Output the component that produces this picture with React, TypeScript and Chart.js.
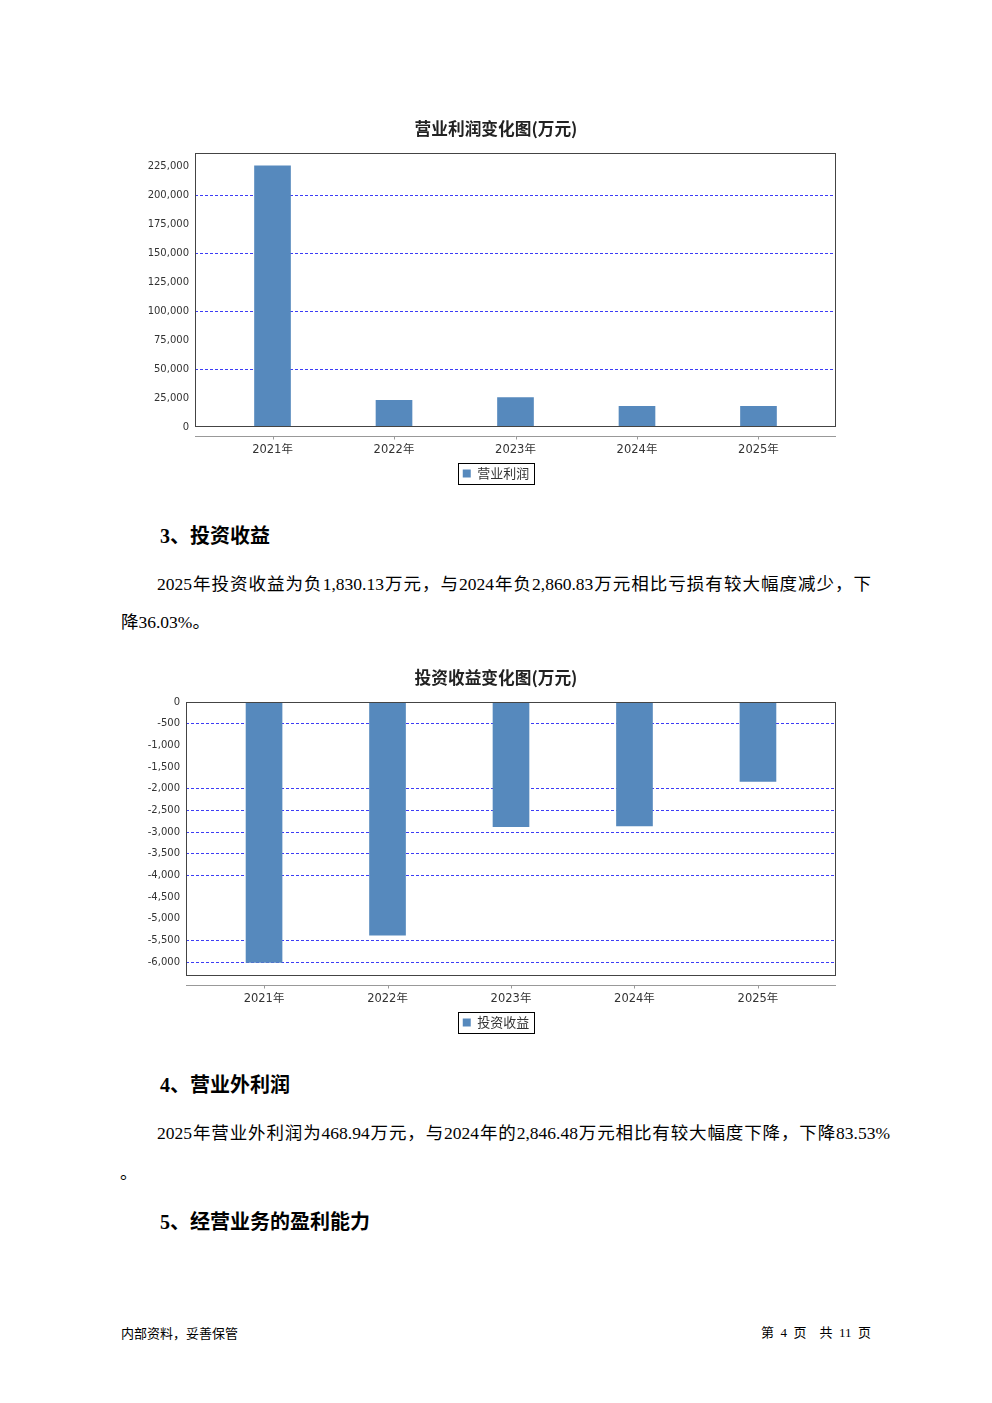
import React, { useEffect, useRef } from 'react';
import { Chart, registerables } from 'chart.js';

Chart.register(...registerables);

const categories = ['2021年', '2022年', '2023年', '2024年', '2025年'];
const operatingProfit = [225100, 23100, 25400, 17900, 17800];
const investmentIncome = [-6010, -5380, -2875, -2860.83, -1830.13];
const profitTicks = [0, 25000, 50000, 75000, 100000, 125000, 150000, 175000, 200000, 225000];
const profitGridValues = [50000, 100000, 150000, 200000];
const incomeTicks = [0, -500, -1000, -1500, -2000, -2500, -3000, -3500, -4000, -4500, -5000, -5500, -6000];
const incomeGridValues = [-500, -2000, -2500, -3000, -3500, -4000, -5500, -6000];

const CJK = '"Noto Sans CJK SC", "Noto Sans", sans-serif';
const AXISFONT = '"DejaVu Sans", "Noto Sans CJK SC", sans-serif';
const BAR = '#5689bd';

const framePlugin = {
  id: 'jfreeFrame',
  afterDraw(chart: any) {
    const { ctx, chartArea: a } = chart;
    ctx.save();
    ctx.setLineDash([]);
    ctx.lineWidth = 1;
    ctx.strokeStyle = '#444';
    ctx.strokeRect(Math.round(a.left) + 0.5, Math.round(a.top) + 0.5, Math.round(a.right - a.left) - 1, Math.round(a.bottom - a.top) - 1);
    const y = Math.round(a.bottom + 9) + 0.5;
    ctx.strokeStyle = '#999';
    ctx.beginPath();
    ctx.moveTo(a.left, y);
    ctx.lineTo(a.right, y);
    const xs = chart.scales.x;
    xs.ticks.forEach((t: any) => {
      const px = Math.round(xs.getPixelForValue(t.value)) + 0.5;
      ctx.moveTo(px, y);
      ctx.lineTo(px, y + 3);
    });
    ctx.stroke();
    const lg = chart.legend;
    if (lg && lg.legendHitBoxes && lg.legendHitBoxes.length) {
      const h = lg.legendHitBoxes[0];
      ctx.strokeStyle = '#000';
      ctx.strokeRect(Math.round(h.left - 5) + 0.5, Math.round(h.top - 4) + 0.5, Math.round(h.width + 9), Math.round(h.height + 8));
    }
    ctx.restore();
  },
};

function makeConfig(opts: {
  title: string;
  label: string;
  values: number[];
  yMin: number;
  yMax: number;
  yTicks: number[];
  gridValues: number[];
  yAxisWidth: number;
  xPad: number;
}) {
  return {
    type: 'bar' as const,
    data: {
      datasets: [
        {
          label: opts.label,
          data: opts.values.map((v, i) => ({ x: i, y: v })),
          backgroundColor: BAR,
          borderWidth: 0,
          barThickness: 36,
          yAxisID: 'y',
        },
      ],
    },
    options: {
      animation: false,
      responsive: false,
      devicePixelRatio: 1,
      layout: { padding: 0 },
      plugins: {
        title: {
          display: true,
          text: opts.title,
          color: '#222',
          font: { family: CJK, size: 16.7, weight: 'bold', lineHeight: 1.2 },
          padding: { top: 9, bottom: 14 },
        },
        legend: {
          display: true,
          position: 'bottom',
          labels: {
            boxWidth: 8,
            boxHeight: 8,
            padding: 4,
            color: '#333',
            font: { family: CJK, size: 13 },
          },
        },
        tooltip: { enabled: false },
      },
      scales: {
        x: {
          type: 'linear',
          offset: false,
          min: -opts.xPad,
          max: 4 + opts.xPad,
          afterBuildTicks: (s: any) => {
            s.ticks = categories.map((_, i) => ({ value: i }));
          },
          afterFit: (s: any) => {
            s.height = 36;
          },
          grid: { display: false, drawTicks: false, offset: false },
          border: { display: false },
          ticks: {
            padding: 16,
            color: '#333',
            font: { family: AXISFONT, size: 11.5 },
            maxRotation: 0,
            autoSkip: false,
            callback: (v: any) => categories[Math.round(Number(v))] ?? '',
          },
        },
        y: {
          type: 'linear',
          position: 'left',
          min: opts.yMin,
          max: opts.yMax,
          afterBuildTicks: (s: any) => {
            s.ticks = opts.yTicks.map((v) => ({ value: v }));
          },
          afterFit: (s: any) => {
            s.width = opts.yAxisWidth;
          },
          grid: {
            drawTicks: false,
            lineWidth: 1,
            color: (c: any) =>
              c.tick && opts.gridValues.includes(c.tick.value) ? 'rgba(40,40,245,0.9)' : 'rgba(0,0,0,0)',
          },
          border: { display: false, dash: [3, 2] },
          ticks: {
            padding: 6,
            color: '#333',
            font: { family: AXISFONT, size: 10 },
            autoSkip: false,
            callback: (v: any) => Number(v).toLocaleString('en-US'),
          },
        },
        rightSpacer: {
          type: 'linear',
          position: 'right',
          display: true,
          min: 0,
          max: 1,
          afterFit: (s: any) => {
            s.width = 35;
          },
          grid: { display: false, drawTicks: false },
          border: { display: false },
          ticks: { display: false },
        },
      },
    },
    plugins: [framePlugin],
  };
}

function ChartBox(props: { top: number; left: number; width: number; height: number; config: any }) {
  const ref = useRef<HTMLCanvasElement | null>(null);
  useEffect(() => {
    if (!ref.current) return;
    const chart = new Chart(ref.current, props.config);
    return () => chart.destroy();
  }, []);
  return (
    <div style={{ position: 'absolute', top: props.top, left: props.left, width: props.width, height: props.height }}>
      <canvas ref={ref} width={props.width} height={props.height} style={{ width: props.width, height: props.height, display: 'block' }} />
    </div>
  );
}

const TEXTFONT = '"Liberation Serif", "Noto Sans CJK SC", serif';

function Line(props: { top: number; left: number; width?: number; size: number; bold?: boolean; justify?: boolean; children: any; align?: string }) {
  return (
    <div
      style={{
        position: 'absolute',
        top: props.top,
        left: props.left,
        width: props.width,
        fontFamily: TEXTFONT,
        fontSize: props.size,
        lineHeight: `${props.size + 4}px`,
        fontWeight: props.bold ? 'bold' : 'normal',
        color: '#000',
        textAlign: (props.justify ? 'justify' : props.align || 'left') as any,
        textAlignLast: (props.justify ? 'justify' : props.align || 'left') as any,
        whiteSpace: props.justify ? 'normal' : 'nowrap',
      }}
    >
      {props.children}
    </div>
  );
}

export default function App() {
  const cfg1 = makeConfig({
    title: '营业利润变化图(万元)',
    label: '营业利润',
    values: operatingProfit,
    yMin: 0,
    yMax: 236200,
    yTicks: profitTicks,
    gridValues: profitGridValues,
    yAxisWidth: 74,
    xPad: 0.638,
  });
  const cfg2 = makeConfig({
    title: '投资收益变化图(万元)',
    label: '投资收益',
    values: investmentIncome,
    yMin: -6322,
    yMax: 0,
    yTicks: incomeTicks,
    gridValues: incomeGridValues,
    yAxisWidth: 65,
    xPad: 0.632,
  });
  return (
    <div style={{ position: 'absolute', left: 0, top: 0, width: 992, height: 1403, background: '#fff', overflow: 'hidden' }}>
      <ChartBox top={110} left={121} width={750} height={380} config={cfg1} />
      <Line top={524} left={160} size={20} bold>3、投资收益</Line>
      <Line top={574} left={157} width={714} size={17.5} justify>
        2025年投资收益为负1,830.13万元，与2024年负2,860.83万元相比亏损有较大幅度减少，下
      </Line>
      <Line top={612} left={121} size={17.5}>降36.03%。</Line>
      <ChartBox top={659} left={121} width={750} height={380} config={cfg2} />
      <Line top={1073} left={160} size={20} bold>4、营业外利润</Line>
      <Line top={1123} left={157} width={733} size={17.5} justify>
        2025年营业外利润为468.94万元，与2024年的2,846.48万元相比有较大幅度下降，下降83.53%
      </Line>
      <Line top={1163} left={120} size={17.5}>。</Line>
      <Line top={1210} left={160} size={20} bold>5、经营业务的盈利能力</Line>
      <div style={{ position: 'absolute', top: 1325, left: 121, fontFamily: CJK, fontSize: 13, lineHeight: '16px', color: '#000', whiteSpace: 'nowrap' }}>
        内部资料，妥善保管
      </div>
      <div style={{ position: 'absolute', top: 1325, left: 711, width: 160, textAlign: 'right', fontFamily: TEXTFONT, fontSize: 13, lineHeight: '16px', color: '#000', whiteSpace: 'pre' }}>
        {'第  4  页    共  11  页'}
      </div>
    </div>
  );
}
